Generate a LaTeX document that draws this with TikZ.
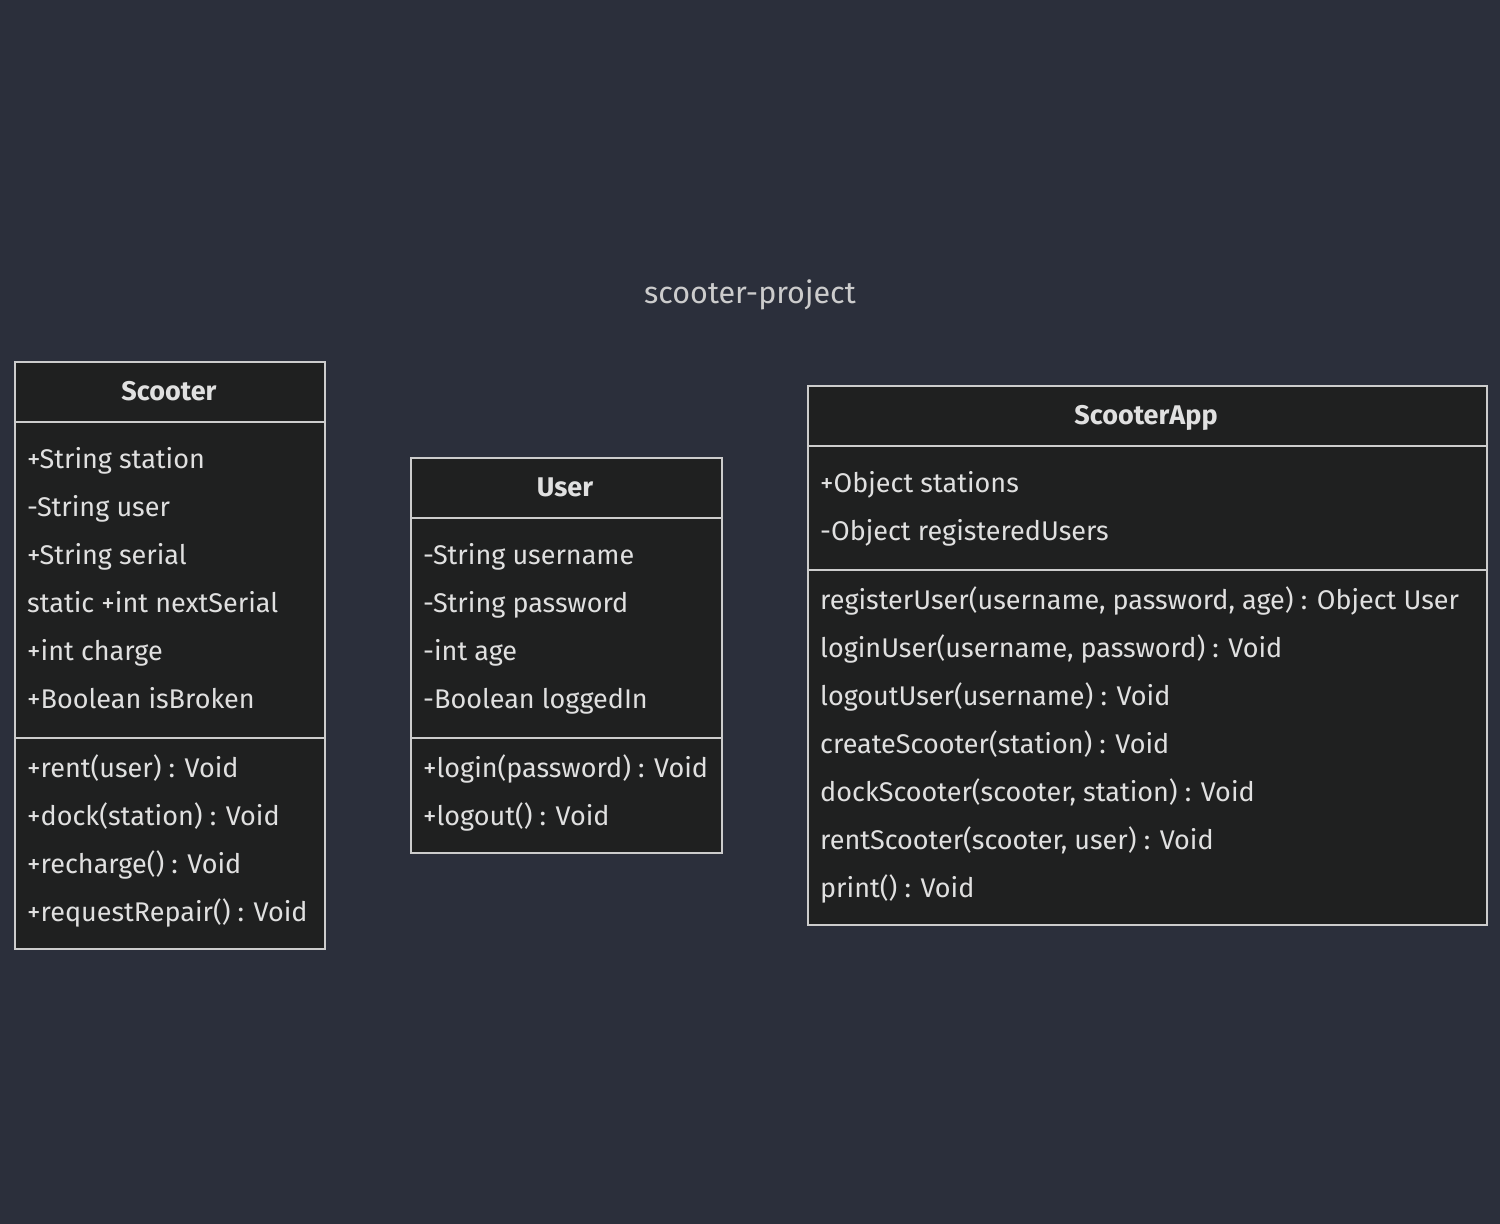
\documentclass[tikz,border=0pt]{standalone}
\usepackage{fontspec}
\setmainfont{Fira Sans}
\usetikzlibrary{positioning}
\definecolor{bgcol}{HTML}{2B2F3B}
\definecolor{boxfill}{HTML}{1F2020}
\definecolor{boxline}{HTML}{CCCCCC}
\definecolor{txtcol}{HTML}{E0E0E0}
\definecolor{titlecol}{HTML}{CCCCCC}
\tikzset{%
  umlbox/.style = {
    draw = boxline,
    fill = boxfill,
    line width = 1.5pt,
    inner sep = 0pt,
    anchor = north west,
  },
  head/.style = {
    text = txtcol,
    inner sep = 0pt,
    anchor = base,
    font = \fontsize{27}{32}\selectfont\bfseries,
  },
  member/.style = {
    text = txtcol,
    inner sep = 0pt,
    anchor = base west,
    font = \fontsize{27}{32}\selectfont,
  },
  divider/.style = {
    draw = boxline,
    line width = 1.5pt,
  },
}

\begin{document}
\begin{tikzpicture}[x=1pt, y=-1pt]
\fill[bgcol] (0,0) rectangle (1500,1224);
\useasboundingbox (0,0) rectangle (1500,1224);

\node(title) [anchor=base, inner sep=0pt, text=titlecol, font=\fontsize{30.5}{34}\selectfont] at (750,303) {scooter-project};

% Scooter
\node(sc) [umlbox, minimum width=310pt, minimum height=587pt] at (14,361) {};
\node(sch) [head] at (169,400) {Scooter};
\draw[divider] (sc.west |- 0,422) -- (sc.east |- 0,422);
\draw[divider] (sc.west |- 0,738) -- (sc.east |- 0,738);
\foreach \txt [count=\i from 0] in {+String station, -String user, +String serial,
    static +int nextSerial, +int charge, +Boolean isBroken}
  \node(sca\i) [member] at (27,468+48*\i) {\txt};
\foreach \txt [count=\i from 0] in {+rent(user) : Void, +dock(station) : Void,
    +recharge() : Void, +requestRepair() : Void}
  \node(scm\i) [member] at (27,777+48*\i) {\txt};

% User
\node(us) [umlbox, minimum width=311pt, minimum height=395pt] at (410,457) {};
\node(ush) [head] at (565,496) {User};
\draw[divider] (us.west |- 0,518) -- (us.east |- 0,518);
\draw[divider] (us.west |- 0,738) -- (us.east |- 0,738);
\foreach \txt [count=\i from 0] in {-String username, -String password, -int age, -Boolean loggedIn}
  \node(usa\i) [member] at (423,564+48*\i) {\txt};
\foreach \txt [count=\i from 0] in {+login(password) : Void, +logout() : Void}
  \node(usm\i) [member] at (423,777+48*\i) {\txt};

% ScooterApp
\node(app) [umlbox, minimum width=679pt, minimum height=539pt] at (807,385) {};
\node(apph) [head] at (1146,424) {ScooterApp};
\draw[divider] (app.west |- 0,446) -- (app.east |- 0,446);
\draw[divider] (app.west |- 0,570) -- (app.east |- 0,570);
\foreach \txt [count=\i from 0] in {+Object stations, -Object registeredUsers}
  \node(appa\i) [member] at (820,492+48*\i) {\txt};
\foreach \txt [count=\i from 0] in {{registerUser(username, password, age) : Object User},
    {loginUser(username, password) : Void}, {logoutUser(username) : Void},
    {createScooter(station) : Void}, {dockScooter(scooter, station) : Void},
    {rentScooter(scooter, user) : Void}, {print() : Void}}
  \node(appm\i) [member] at (820,609+48*\i) {\txt};
\end{tikzpicture}
\end{document}
